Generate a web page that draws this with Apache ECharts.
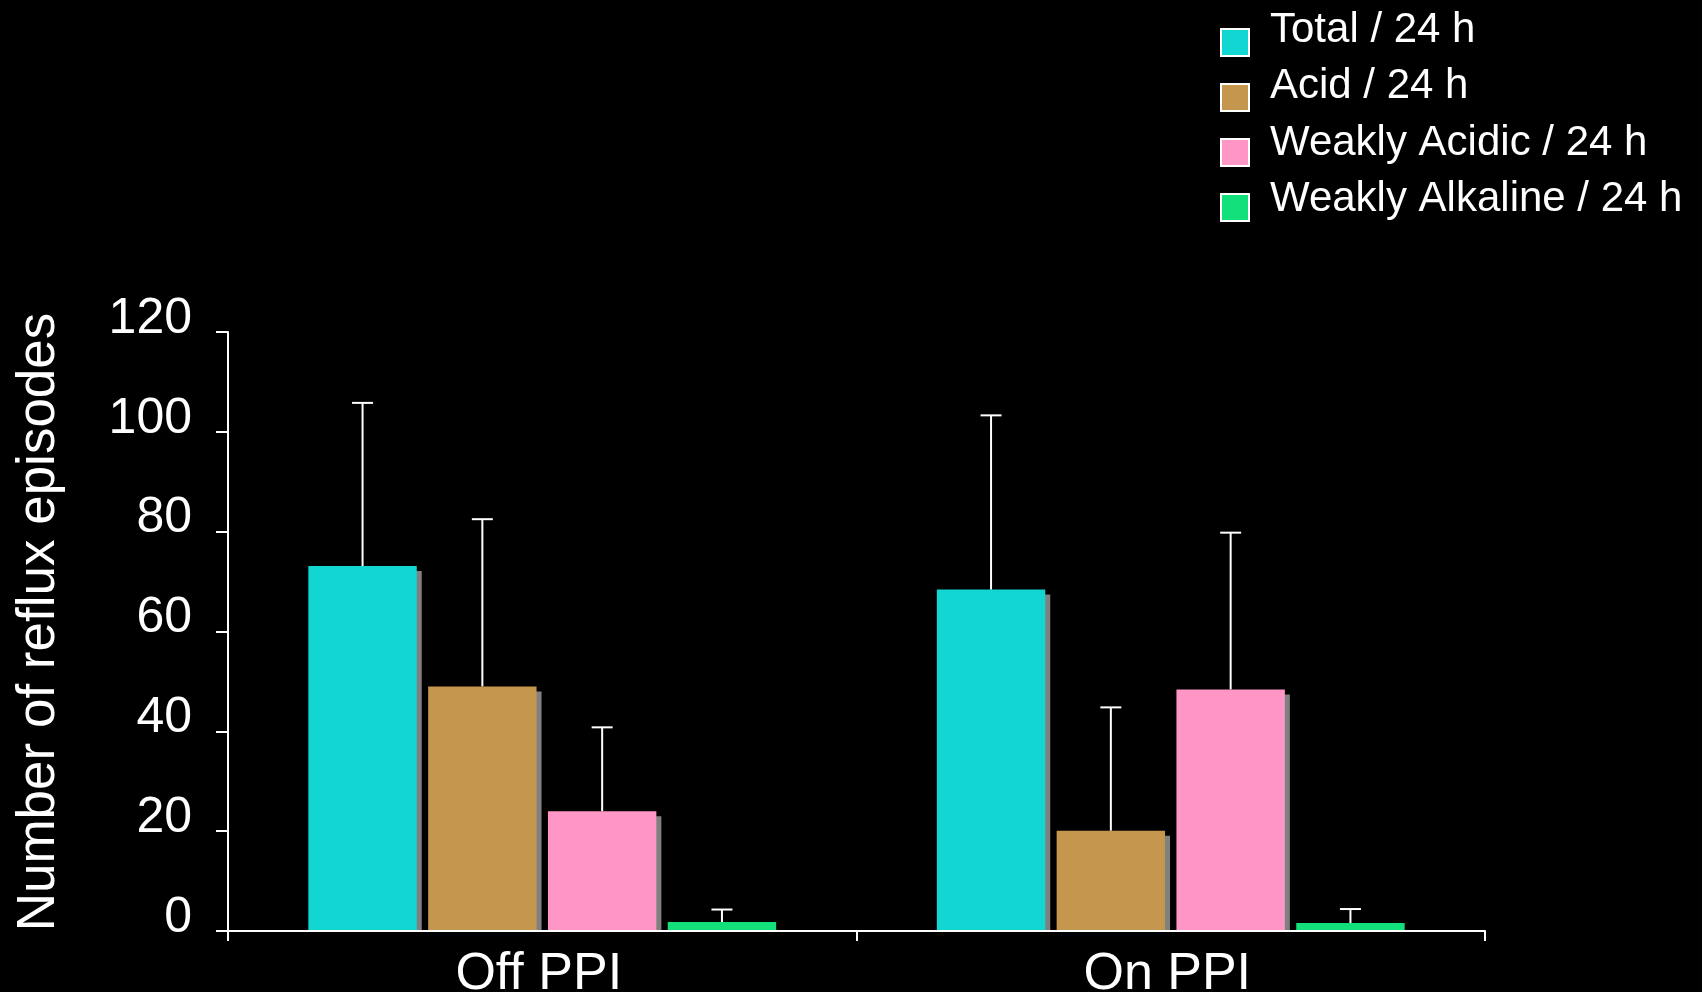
<!DOCTYPE html>
<html>
<head>
<meta charset="utf-8">
<script src="https://cdn.jsdelivr.net/npm/echarts@6/dist/echarts.min.js"></script>
<style>
  html, body { margin: 0; padding: 0; background: #000; }
  #chart { width: 1702px; height: 992px; }
</style>
</head>
<body>
<div id="chart"></div>
<script>
// ---- data ----
const categories = ['Off PPI', 'On PPI'];
const seriesNames = ['Total / 24 h', 'Acid / 24 h', 'Weakly Acidic / 24 h', 'Weakly Alkaline / 24 h'];
const totalMean = [73.1, 68.4];
const totalUpper = [105.8, 103.3];
const acidMean = [49.0, 20.1];
const acidUpper = [82.5, 44.8];
const weakAcidMean = [24.0, 48.4];
const weakAcidUpper = [40.8, 79.8];
const weakAlkMean = [1.8, 1.6];
const weakAlkUpper = [4.3, 4.4];
const yMin = 0, yMax = 120, yInterval = 20;
const yAxisTitle = 'Number of reflux episodes';

// ---- styles ----
const colors = ['#12D6D2', '#C4964E', '#FF96C6', '#12E07A'];
const FONT = 'Liberation Sans, Arial, sans-serif';
const BAR_RATIO = 0.1725;   // bar width relative to category band
const GAP_RATIO = 0.105;    // gap relative to bar width
const SHADOW = 5;
const CAP = 21;

const means = [totalMean, acidMean, weakAcidMean, weakAlkMean];
const uppers = [totalUpper, acidUpper, weakAcidUpper, weakAlkUpper];

function makeSeries(s) {
  return {
    name: seriesNames[s],
    type: 'custom',
    itemStyle: { color: colors[s] },
    encode: { x: 0, y: [1, 2] },
    data: categories.map((c, i) => [i, means[s][i], uppers[s][i]]),
    renderItem: function (params, api) {
      const idx = api.value(0);
      const base = api.coord([idx, 0]);
      const top = api.coord([idx, api.value(1)]);
      const errTop = api.coord([idx, api.value(2)]);
      const band = api.size([1, 0])[0];
      const bw = band * BAR_RATIO;
      const gap = bw * GAP_RATIO;
      const cx = base[0] + (s - 1.5) * (bw + gap);
      const x0 = cx - bw / 2;
      const h = base[1] - top[1];
      const children = [];
      if (h > SHADOW * 3) {
        children.push({
          type: 'rect',
          shape: { x: x0 + SHADOW, y: top[1] + SHADOW, width: bw, height: h - SHADOW },
          style: { fill: '#808080' }
        });
      }
      children.push({
        type: 'rect',
        shape: { x: x0, y: top[1], width: bw, height: h },
        style: { fill: colors[s] }
      });
      children.push({
        type: 'line',
        shape: { x1: cx, y1: top[1], x2: cx, y2: errTop[1] },
        style: { stroke: '#fff', lineWidth: 2 }
      });
      children.push({
        type: 'line',
        shape: { x1: cx - CAP / 2, y1: errTop[1], x2: cx + CAP / 2, y2: errTop[1] },
        style: { stroke: '#fff', lineWidth: 2 }
      });
      return { type: 'group', children: children };
    }
  };
}

const chart = echarts.init(document.getElementById('chart'), null, { renderer: 'canvas' });
chart.setOption({
  backgroundColor: '#000',
  animation: false,
  legend: [
    {
      // swatches
      orient: 'vertical',
      left: 1220,
      top: 28,
      padding: 0,
      itemGap: 26,
      itemWidth: 28,
      itemHeight: 27,
      icon: 'rect',
      itemStyle: { borderColor: '#fff', borderWidth: 2 },
      formatter: function () { return ''; },
      textStyle: { fontSize: 8, color: '#fff' },
      data: seriesNames
    },
    {
      // labels
      orient: 'vertical',
      left: 1265,
      top: 9,
      padding: 0,
      itemGap: 14.5,
      itemWidth: 0,
      itemHeight: 0,
      icon: 'rect',
      itemStyle: { borderWidth: 0 },
      textStyle: { color: '#fff', fontFamily: FONT, fontSize: 42, lineHeight: 42 },
      data: seriesNames
    }
  ],
  grid: { left: 228, right: 217, top: 332, bottom: 61, containLabel: false, outerBoundsMode: 'none' },
  xAxis: {
    type: 'category',
    data: categories,
    z: 5,
    axisLine: { lineStyle: { color: '#fff', width: 2 } },
    axisTick: { show: true, length: 10, lineStyle: { color: '#fff', width: 2 } },
    axisLabel: { color: '#fff', fontFamily: FONT, fontSize: 52, margin: 18, padding: [0, 7, 0, 0] },
    splitLine: { show: false }
  },
  yAxis: {
    type: 'value',
    min: yMin,
    max: yMax,
    interval: yInterval,
    z: 5,
    name: yAxisTitle,
    nameLocation: 'middle',
    nameRotate: 90,
    nameGap: 162,
    nameTextStyle: { color: '#fff', fontFamily: FONT, fontSize: 53, padding: [0, 0, 0, 19] },
    axisLine: { show: true, lineStyle: { color: '#fff', width: 2 } },
    axisTick: { show: true, length: 12, inside: false, lineStyle: { color: '#fff', width: 2 } },
    axisLabel: {
      color: '#fff', fontFamily: FONT, fontSize: 50, margin: 36, lineHeight: 26,
      formatter: function (v) { return v + '\n '; }
    },
    splitLine: { show: false }
  },
  series: [0, 1, 2, 3].map(makeSeries)
});
</script>
</body>
</html>
